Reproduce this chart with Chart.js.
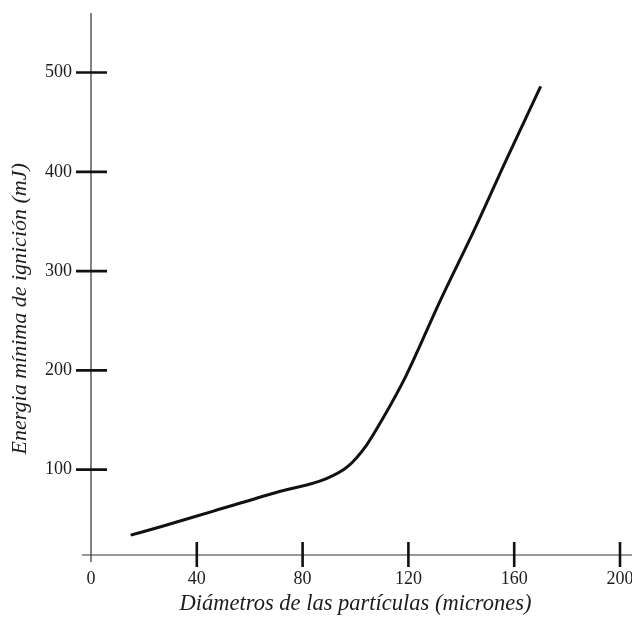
<!DOCTYPE html>
<html>
<head>
<meta charset="utf-8">
<title>Energia minima de ignicion</title>
<script src="https://cdn.jsdelivr.net/npm/chart.js@4/dist/chart.umd.min.js"></script>
<style>
  body { margin: 0; background: #fff; }
  #wrap { width: 632px; height: 619px; }
</style>
</head>
<body>
<div id="wrap"><canvas id="myChart" width="632" height="619"></canvas></div>
<script>
'use strict'

// values
let diametros = [15, 27, 46, 70, 89, 97, 104, 110, 119, 132, 145, 157, 170];
let energia   = [34, 43, 58, 77, 91, 103, 124, 150, 194, 270, 342, 412, 486];

let xTicks = [0, 40, 80, 120, 160, 200];
let yTicks = [100, 200, 300, 400, 500];

let xTitle = 'Diámetros de las partículas (micrones)';
let yTitle = 'Energia mínima de ignición (mJ)';

let fuente = "'Liberation Serif', 'DejaVu Serif', serif";

let puntos = [];
for (let i = 0; i < diametros.length; i++) {
    puntos.push({ x: diametros[i], y: energia[i] });
}

// axis lines, crossing tick marks and the y title (sits a bit below centre in the original)
const axisPlugin = {
    id: 'axisPlugin',
    afterDraw(chart) {
        let ctx = chart.ctx;
        let xs = chart.scales.x;
        let ys = chart.scales.y;
        let area = chart.chartArea;
        ctx.save();
        ctx.strokeStyle = '#333';
        ctx.lineWidth = 1.2;
        ctx.beginPath();
        ctx.moveTo(area.left - 9, area.bottom);
        ctx.lineTo(chart.width, area.bottom);
        ctx.moveTo(area.left, area.top);
        ctx.lineTo(area.left, area.bottom + 7);
        ctx.stroke();

        ctx.strokeStyle = '#111';
        ctx.lineWidth = 2.6;
        ctx.beginPath();
        yTicks.forEach(function (v) {
            let py = ys.getPixelForValue(v);
            ctx.moveTo(area.left - 15, py);
            ctx.lineTo(area.left + 16, py);
        });
        xTicks.forEach(function (v) {
            if (v === 0) return;
            let px = xs.getPixelForValue(v);
            ctx.moveTo(px, area.bottom - 13);
            ctx.lineTo(px, area.bottom + 12);
        });
        ctx.stroke();

        ctx.translate(20, ys.getPixelForValue(262));
        ctx.rotate(-Math.PI / 2);
        ctx.fillStyle = '#1c1c1c';
        ctx.font = 'italic 22px ' + fuente;
        ctx.textAlign = 'center';
        ctx.textBaseline = 'middle';
        ctx.fillText(yTitle, 0, 0);
        ctx.restore();
    }
};

Chart.defaults.font.family = fuente;
Chart.defaults.color = '#1c1c1c';

const data = {
    datasets: [{
        label: 'Energia',
        data: puntos,
        borderColor: '#111',
        borderWidth: 3,
        pointRadius: 0,
        cubicInterpolationMode: 'monotone',
        fill: false
    }]
};

const config = {
    type: 'line',
    data: data,
    options: {
        responsive: false,
        animation: false,
        layout: {
            padding: { left: 0, right: 12, top: 13, bottom: 0 }
        },
        plugins: {
            legend: { display: false },
            tooltip: { enabled: false }
        },
        scales: {
            x: {
                type: 'linear',
                min: 0,
                max: 200,
                grid: { display: false, drawTicks: false },
                border: { display: false },
                afterBuildTicks: function (scale) {
                    scale.ticks = xTicks.map(function (v) { return { value: v }; });
                },
                afterFit: function (scale) {
                    scale.paddingLeft = 0;
                    scale.paddingRight = 0;
                    scale.height = 64;
                },
                ticks: {
                    padding: 13,
                    maxRotation: 0,
                    autoSkip: false,
                    font: { size: 18 }
                },
                title: {
                    display: true,
                    text: xTitle,
                    padding: { top: 4, bottom: 1 },
                    font: { size: 22.5, style: 'italic' }
                }
            },
            y: {
                type: 'linear',
                min: 14,
                max: 560,
                grid: { display: false, drawTicks: false },
                border: { display: false },
                afterBuildTicks: function (scale) {
                    scale.ticks = yTicks.map(function (v) { return { value: v }; });
                },
                afterFit: function (scale) {
                    scale.paddingTop = 0;
                    scale.paddingBottom = 0;
                    scale.width = 91;
                },
                ticks: {
                    padding: 19,
                    autoSkip: false,
                    font: { size: 18 }
                },
                title: { display: false }
            }
        }
    },
    plugins: [axisPlugin]
};

var myChart = new Chart(
    document.getElementById('myChart'),
    config
);
</script>
</body>
</html>
